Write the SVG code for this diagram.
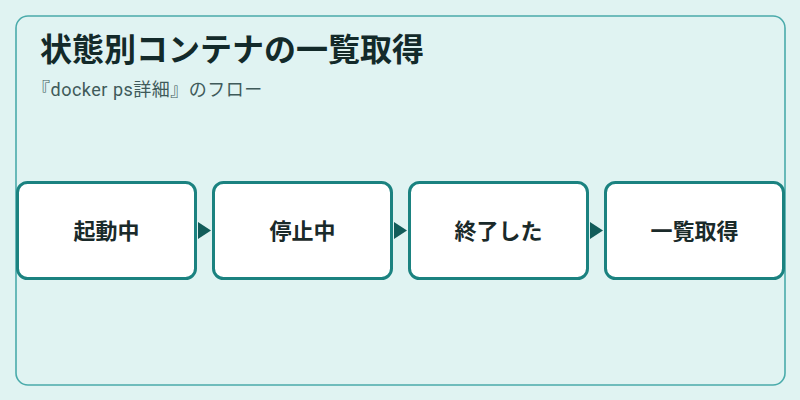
<svg xmlns="http://www.w3.org/2000/svg" width="800" height="400" viewBox="0 0 800 400">
<defs>
<style>
.node rect{fill:#ffffff;stroke:#1b8280;stroke-width:3}
.node text{font-family:"Noto Sans CJK JP","Noto Sans",sans-serif;font-size:22px;font-weight:bold;fill:#1a2a2a;text-anchor:middle}
.title{font-family:"Noto Sans CJK JP","Noto Sans",sans-serif;font-size:32px;font-weight:bold;fill:#132a2a}
.sub{font-family:Roboto,"Noto Sans CJK JP",sans-serif;font-size:18px;letter-spacing:0.5px;fill:#3f5a5a}
.arrow{fill:#125c5a}
</style>
</defs>
<rect width="800" height="400" fill="#e0f3f2"/>
<rect x="16" y="16" width="769" height="369" rx="12" fill="#e0f3f2" stroke="#4aabab" stroke-width="1.6"/>
<text class="title" x="40" y="61">状態別コンテナの一覧取得</text>
<text class="sub" x="32" y="96">『docker ps詳細』のフロー</text>
<g id="connectors">
<polygon class="arrow" points="198,222 211,230.5 198,239"/>
<polygon class="arrow" points="394,222 407,230.5 394,239"/>
<polygon class="arrow" points="590,222 603,230.5 590,239"/>
</g>
<g id="node1" class="node"><rect x="17.5" y="182.5" width="178" height="96" rx="10"/><text x="106.5" y="238.5">起動中</text></g>
<g id="node2" class="node"><rect x="213.5" y="182.5" width="178" height="96" rx="10"/><text x="302.5" y="238.5">停止中</text></g>
<g id="node3" class="node"><rect x="409.5" y="182.5" width="178" height="96" rx="10"/><text x="498.5" y="238.5">終了した</text></g>
<g id="node4" class="node"><rect x="605.5" y="182.5" width="178" height="96" rx="10"/><text x="694.5" y="238.5">一覧取得</text></g>
</svg>
